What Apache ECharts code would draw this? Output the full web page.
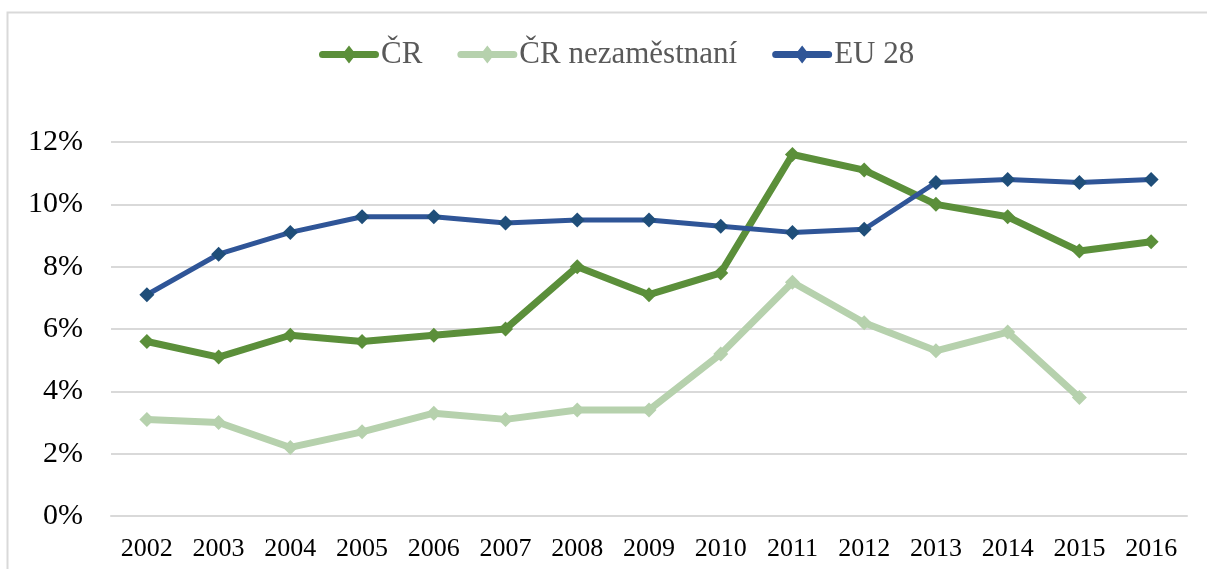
<!DOCTYPE html>
<html><head><meta charset="utf-8">
<script src="https://cdn.jsdelivr.net/npm/echarts@6/dist/echarts.min.js"></script>
<style>html,body{margin:0;padding:0;background:#fff}#c{width:1207px;height:569px}</style>
</head><body><div id="c"></div>
<script>
const years = ['2002','2003','2004','2005','2006','2007','2008','2009','2010','2011','2012','2013','2014','2015','2016'];
const cr = [5.6,5.1,5.8,5.6,5.8,6.0,8.0,7.1,7.8,11.6,11.1,10.0,9.6,8.5,8.8];
const crUnemployed = [3.1,3.0,2.2,2.7,3.3,3.1,3.4,3.4,5.2,7.5,6.2,5.3,5.9,3.8,null];
const eu28 = [7.1,8.4,9.1,9.6,9.6,9.4,9.5,9.5,9.3,9.1,9.2,10.7,10.8,10.7,10.8];
const seriesNames = ['ČR','ČR nezaměstnaní','EU 28'];
const colors = {cr:'#5B8F3A', unemp:'#B6D1AD', euLine:'#2F5597', euMark:'#1F4E79'};

const font = '"Liberation Serif","Times New Roman",serif';
const legendIcon = 'path://M3.5,5.5 L25.7,5.5 L30,0 L34.3,5.5 L56.5,5.5 A3.5,3.5 0 0 1 56.5,12.5 L34.3,12.5 L30,18 L25.7,12.5 L3.5,12.5 A3.5,3.5 0 0 1 3.5,5.5 Z';
const chart = echarts.init(document.getElementById('c'), null, {renderer:'canvas'});
function mk(name, data, lineColor, markColor, width){
  return {name, type:'line', data, symbol:'diamond', symbolSize:15,
    lineStyle:{color:lineColor, width, join:'round'}, itemStyle:{color:markColor, borderWidth:0},
    emphasis:{disabled:true}, animation:false};
}
chart.setOption({
  animation:false,
  graphic:[{type:'rect', shape:{x:7.5,y:12.5,width:1300,height:700}, style:{fill:null, stroke:'#d9d9d9', lineWidth:2}, z:-1}],
  legend:{top:34, left:314, itemWidth:60, itemHeight:18, itemGap:35,
    textStyle:{fontFamily:font, fontSize:31, color:'#595959', padding:[0,0,0,-3]},
    data:[
      {name:seriesNames[0], icon:legendIcon, itemStyle:{color:colors.cr}},
      {name:seriesNames[1], icon:legendIcon, itemStyle:{color:colors.unemp}},
      {name:seriesNames[2], icon:legendIcon, itemStyle:{color:colors.euLine}}
    ]},
  grid:{left:111, right:20, top:142, bottom:53, containLabel:false},
  xAxis:{type:'category', data:years, boundaryGap:true,
    axisLine:{show:true, lineStyle:{color:'#d9d9d9', width:2}}, axisTick:{show:false},
    axisLabel:{fontFamily:font, fontSize:26, color:'#000', margin:20}},
  yAxis:{type:'value', min:0, max:12, interval:2,
    axisLine:{show:false}, axisTick:{show:false},
    splitLine:{lineStyle:{color:'#d9d9d9', width:2}},
    axisLabel:{fontFamily:font, fontSize:30, color:'#000', margin:28, formatter: v => v + '%'}},
  series:[
    mk(seriesNames[0], cr, colors.cr, colors.cr, 7),
    mk(seriesNames[1], crUnemployed, colors.unemp, colors.unemp, 7),
    mk(seriesNames[2], eu28, colors.euLine, colors.euMark, 5)
  ]
});
</script></body></html>
